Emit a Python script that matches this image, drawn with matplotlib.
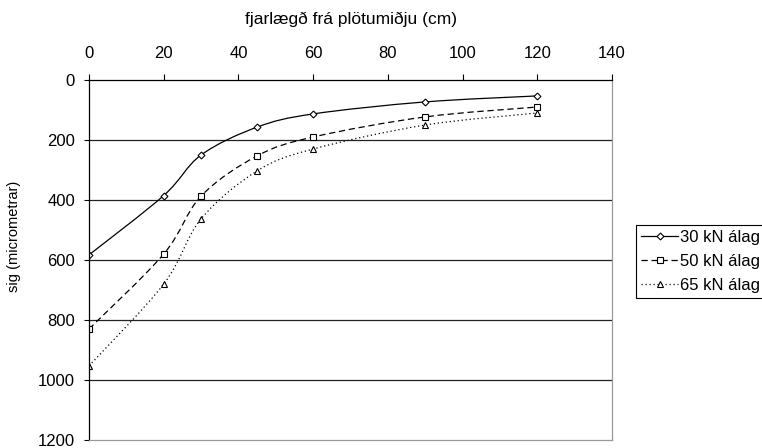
import matplotlib.pyplot as plt
from matplotlib.path import Path
from matplotlib.patches import PathPatch

plt.rcParams['font.family'] = ['Liberation Sans', 'DejaVu Sans']

distance = [0, 20, 30, 45, 60, 90, 120]
load_30 = [583, 385, 250, 157, 113, 73, 53]
load_50 = [830, 580, 387, 253, 190, 123, 90]
load_65 = [953, 680, 463, 303, 230, 150, 110]
labels = ["30 kN álag", "50 kN álag", "65 kN álag"]


def smooth_path(xs, ys):
    # Excel style smoothed line as cubic bezier segments
    pts = list(zip(xs, ys))
    verts = [pts[0]]
    codes = [Path.MOVETO]
    n = len(pts)
    for i in range(n - 1):
        p0 = pts[i - 1] if i > 0 else pts[i]
        p1 = pts[i]
        p2 = pts[i + 1]
        p3 = pts[i + 2] if i + 2 < n else pts[i + 1]
        c1 = (p1[0] + (p2[0] - p0[0]) / 6, p1[1] + (p2[1] - p0[1]) / 6)
        c2 = (p2[0] - (p3[0] - p1[0]) / 6, p2[1] - (p3[1] - p1[1]) / 6)
        verts += [c1, c2, p2]
        codes += [Path.CURVE4] * 3
    return Path(verts, codes)


fig = plt.figure(figsize=(7.62, 4.48), dpi=100)
ax = fig.add_axes([0.1168, 0.0179, 0.6864, 0.8035])

styles = [
    ("-", "D", 3.5, load_30),
    ((0, (5, 3)), "s", 5, load_50),
    ((0, (1, 2.2)), "^", 4.5, load_65),
]
for (ls, mk, ms, vals), lab in zip(styles, labels):
    ax.add_patch(PathPatch(smooth_path(distance, vals), fill=False,
                           edgecolor="black", linewidth=0.9, linestyle=ls))
    ax.plot(distance, vals, linestyle="none", marker=mk, markersize=ms,
            markerfacecolor="white", markeredgecolor="black",
            markeredgewidth=0.8)
    ax.plot([], [], linestyle=ls, color="black", linewidth=0.9, marker=mk,
            markersize=ms, markerfacecolor="white", markeredgecolor="black",
            markeredgewidth=0.8, label=lab)

ax.set_xlim(0, 140)
ax.set_ylim(1200, 0)
ax.set_xticks(range(0, 141, 20))
ax.set_yticks(range(0, 1201, 200))
ax.xaxis.tick_top()
ax.xaxis.set_label_position("top")
ax.tick_params(axis="both", labelsize=12, direction="out", width=0.8,
               color="black")
ax.tick_params(axis="x", length=4.5, pad=9)
ax.tick_params(axis="y", length=3.6, pad=6.5)
ax.set_xlabel("fjarlægð frá plötumiðju (cm)", fontsize=12.5)
ax.xaxis.set_label_coords(0.5, 1.155)
ax.set_ylabel("sig (micrometrar)", fontsize=10.5)
ax.yaxis.set_label_coords(-0.13, 0.565)

for y in range(200, 1001, 200):
    ax.axhline(y, color="#222222", linewidth=0.9, zorder=0)

ax.spines["top"].set_color("black")
ax.spines["left"].set_color("black")
ax.spines["right"].set_color("#999999")
ax.spines["bottom"].set_color("#999999")
for s in ax.spines.values():
    s.set_linewidth(0.9)

leg = fig.legend(loc="upper left", bbox_to_anchor=(0.835, 0.498),
                 fontsize=12, frameon=True, fancybox=False, framealpha=1,
                 edgecolor="black", handlelength=2.2, handletextpad=0.1,
                 borderpad=0.3, labelspacing=0.55, borderaxespad=0)
leg.get_frame().set_linewidth(0.8)

fig.savefig("out.png", dpi=100)
